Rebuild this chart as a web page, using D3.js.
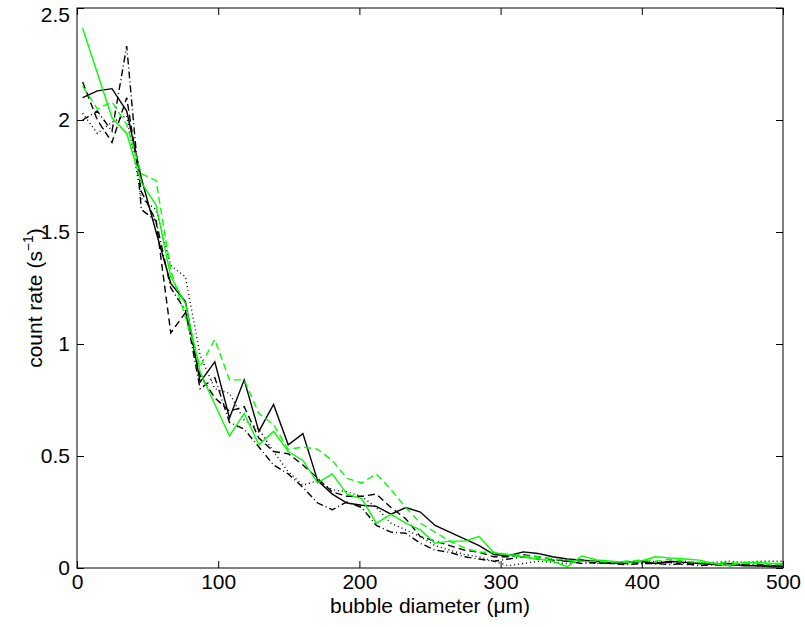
<!DOCTYPE html>
<html>
<head>
    <meta charset="utf-8" />
    <title>count rate vs bubble diameter</title>
    <script src="https://cdn.jsdelivr.net/npm/d3@7"></script>
    <style>
        body { margin: 0; background: #fff; }
        text { font-family: "Liberation Sans", Arial, sans-serif; }
    </style>
</head>
<body>
</body>
<script charset="utf-8">

    // bin centres (um)
    var diameter = [4, 14.4, 24.8, 35.2, 45.6, 56, 66.4, 76.8, 87.2, 97.6, 108, 118.4, 128.8, 139.2, 149.6,
        160, 170.4, 180.8, 191.2, 201.6, 212, 222.4, 232.8, 243.2, 253.6, 264, 274.4, 284.8, 295.2, 305.6,
        316, 326.4, 336.8, 347.2, 357.6, 368, 378.4, 388.8, 399.2, 409.6, 420, 430.4, 440.8, 451.2, 461.6,
        472, 482.4, 492.8, 503.2];

    var blackSolid = [2.10, 2.13, 2.14, 2.04, 1.74, 1.50, 1.27, 1.19, 0.83, 0.92, 0.67, 0.84, 0.61, 0.73, 0.55,
        0.60, 0.39, 0.33, 0.29, 0.28, 0.275, 0.24, 0.27, 0.25, 0.19, 0.16, 0.13, 0.10, 0.06, 0.055,
        0.072, 0.065, 0.05, 0.04, 0.035, 0.03, 0.02, 0.025, 0.03, 0.02, 0.03, 0.025, 0.02, 0.015, 0.02,
        0.01, 0.01, 0.005, 0.005];

    var blackDashed = [2.17, 2.00, 1.90, 2.10, 1.68, 1.55, 1.05, 1.14, 0.86, 0.76, 0.70, 0.72, 0.58, 0.52, 0.51,
        0.46, 0.40, 0.34, 0.32, 0.32, 0.33, 0.27, 0.22, 0.14, 0.12, 0.10, 0.08, 0.07, 0.05, 0.05,
        0.06, 0.05, 0.04, 0.03, 0.035, 0.02, 0.025, 0.02, 0.03, 0.02, 0.025, 0.015, 0.02, 0.02, 0.01,
        0.015, 0.01, 0.01, 0.01];

    var blackDotted = [2.03, 1.94, 1.99, 2.02, 1.65, 1.60, 1.35, 1.30, 0.95, 0.80, 0.78, 0.66, 0.62, 0.52, 0.43,
        0.37, 0.39, 0.35, 0.34, 0.32, 0.27, 0.20, 0.17, 0.14, 0.10, 0.08, 0.06, 0.05, 0.03, 0.01,
        0.02, 0.03, 0.025, 0.02, 0.03, 0.02, 0.025, 0.03, 0.02, 0.03, 0.025, 0.03, 0.02, 0.025, 0.03,
        0.025, 0.03, 0.03, 0.03];

    var blackDashDot = [2.00, 2.04, 1.95, 2.33, 1.60, 1.55, 1.25, 1.15, 0.80, 0.85, 0.65, 0.62, 0.54, 0.46, 0.42,
        0.36, 0.29, 0.26, 0.295, 0.27, 0.19, 0.16, 0.155, 0.11, 0.08, 0.07, 0.05, 0.04, 0.03, 0.04,
        0.05, 0.04, 0.035, 0.03, 0.02, 0.025, 0.02, 0.015, 0.02, 0.02, 0.015, 0.02, 0.01, 0.015, 0.01,
        0.02, 0.015, 0.01, 0.01];

    var greenSolid = [2.41, 2.21, 2.01, 1.94, 1.72, 1.62, 1.30, 1.18, 0.875, 0.73, 0.59, 0.69, 0.55, 0.61, 0.52,
        0.48, 0.38, 0.42, 0.33, 0.31, 0.20, 0.24, 0.20, 0.17, 0.11, 0.12, 0.12, 0.14, 0.068, 0.058,
        0.049, 0.04, 0.03, 0.006, 0.054, 0.036, 0.03, 0.025, 0.03, 0.05, 0.045, 0.04, 0.035, 0.02, 0.01,
        0.025, 0.025, 0.02, 0.02];

    var greenDashed = [2.15, 2.05, 2.08, 1.98, 1.76, 1.73, 1.33, 1.12, 0.90, 1.02, 0.84, 0.84, 0.69, 0.64, 0.53,
        0.54, 0.53, 0.48, 0.40, 0.38, 0.42, 0.35, 0.27, 0.20, 0.16, 0.12, 0.09, 0.07, 0.07, 0.06,
        0.055, 0.05, 0.04, 0.035, 0.03, 0.03, 0.025, 0.03, 0.035, 0.03, 0.04, 0.03, 0.025, 0.02, 0.025,
        0.02, 0.02, 0.015, 0.015];

    var xTicks = [0, 100, 200, 300, 400, 500];
    var yTicks = [0, 0.5, 1, 1.5, 2, 2.5];

    var series = [
        { values: blackDotted, color: '#000', dash: '1,3' },
        { values: blackDashDot, color: '#000', dash: '7,3,1,3' },
        { values: blackDashed, color: '#000', dash: '7,4' },
        { values: blackSolid, color: '#000', dash: null },
        { values: greenDashed, color: '#00ff00', dash: '7,4' },
        { values: greenSolid, color: '#00ff00', dash: null }
    ];

    var width = 805;
    var height = 627;
    var fontSize = '21px';
    var margin = { left: 77, right: 22, top: 8, bottom: 59 };
    var svg = d3.select('body').append('svg').attr('width', width).attr('height', height);

    var x = d3.scaleLinear().domain([0, 500]).range([margin.left, width - margin.right]);
    var y = d3.scaleLinear().domain([0, 2.5]).range([height - margin.bottom, margin.top]);

    svg.append('clipPath').attr('id', 'plotclip').append('rect')
        .attr('x', x(0)).attr('y', y(2.5))
        .attr('width', x(500) - x(0)).attr('height', y(0) - y(2.5));

    var line = d3.line()
        .x(function(d, i) { return x(diameter[i]); })
        .y(function(d) { return y(d); });

    svg.append('g').attr('clip-path', 'url(#plotclip)')
        .selectAll('path').data(series).enter().append('path')
        .attr('d', function(d) { return line(d.values); })
        .attr('fill', 'none')
        .attr('stroke', function(d) { return d.color; })
        .attr('stroke-width', 1.4)
        .attr('stroke-dasharray', function(d) { return d.dash; });

    // axes: ticks inside, on all four sides
    var tickLen = 7;
    var axisBottom = d3.axisBottom(x).tickValues(xTicks).tickSizeInner(-tickLen).tickSizeOuter(0).tickPadding(6);
    var axisTop = d3.axisTop(x).tickValues(xTicks).tickSizeInner(-tickLen).tickSizeOuter(0).tickFormat('');
    var axisLeft = d3.axisLeft(y).tickValues(yTicks).tickSizeInner(-tickLen).tickSizeOuter(0).tickPadding(7)
        .tickFormat(function(d) { return d3.format('')(d); });
    var axisRight = d3.axisRight(y).tickValues(yTicks).tickSizeInner(-tickLen).tickSizeOuter(0).tickFormat('');

    svg.append('g').attr('transform', 'translate(0,' + y(0) + ')').call(axisBottom);
    svg.append('g').attr('transform', 'translate(0,' + y(2.5) + ')').call(axisTop);
    var gLeft = svg.append('g').attr('transform', 'translate(' + x(0) + ',0)').call(axisLeft);
    svg.append('g').attr('transform', 'translate(' + x(500) + ',0)').call(axisRight);

    svg.selectAll('.tick line').attr('stroke', '#000');
    svg.selectAll('.domain').remove();
    svg.selectAll('.tick text')
        .attr('font-family', '"Liberation Sans", Arial, sans-serif')
        .attr('font-size', fontSize)
        .attr('fill', '#000');
    // keep the top label inside the picture
    gLeft.selectAll('.tick text').filter(function(d) { return d === 2.5; }).attr('dy', '0.62em');

    svg.append('rect')
        .attr('x', x(0)).attr('y', y(2.5))
        .attr('width', x(500) - x(0)).attr('height', y(0) - y(2.5))
        .attr('fill', 'none').attr('stroke', '#000').attr('stroke-width', 1);

    svg.append('text')
        .attr('x', (x(0) + x(500)) / 2).attr('y', 613)
        .attr('text-anchor', 'middle').attr('font-size', fontSize)
        .text('bubble diameter (\u03bcm)');

    var ylab = svg.append('text')
        .attr('transform', 'translate(42,' + ((y(0) + y(2.5)) / 2 + 10) + ') rotate(-90)')
        .attr('text-anchor', 'middle').attr('font-size', fontSize);
    ylab.append('tspan').text('count rate (s');
    ylab.append('tspan').attr('dy', -9).attr('font-size', '14px').text('\u22121');
    ylab.append('tspan').attr('dy', 9).text(')');

</script>
</html>
